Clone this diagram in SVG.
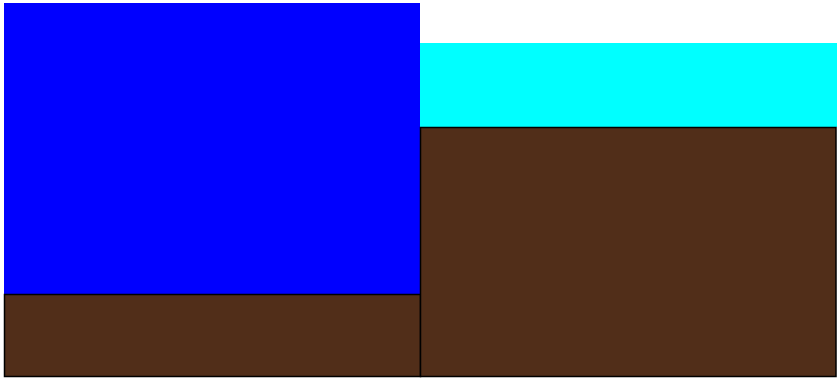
<svg xmlns="http://www.w3.org/2000/svg" width="839" height="378" viewBox="0 0 839 378">
<style>
.soil{fill:#512e19;stroke:#000;stroke-width:1.5}
</style>
<rect width="839" height="378" fill="#fff"/>
<g id="water-left"><rect x="4" y="3" width="416" height="291" fill="#0000ff"/></g>
<g id="water-right"><rect x="420" y="43" width="417" height="84" fill="#00ffff"/></g>
<g id="soil-left"><rect class="soil" x="4.5" y="294.5" width="416" height="82"/></g>
<g id="soil-right"><rect class="soil" x="420.5" y="127.5" width="415.5" height="249"/></g>
<g id="connectors"/>
</svg>
